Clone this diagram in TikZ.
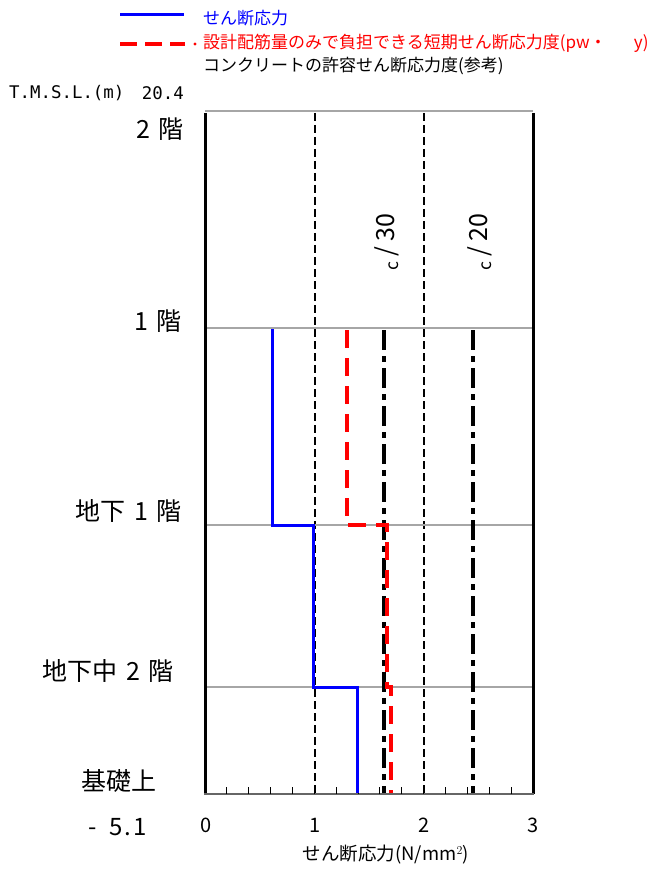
\documentclass[tikz,border=0pt]{standalone}
\usepackage{fontspec}
\setmainfont{Noto Sans CJK JP}
\newfontfamily\monofnt{DejaVu Sans Mono}
\newcommand{\hw}[1]{\makebox[0.5em][c]{#1}}
\begin{document}
\begin{tikzpicture}[x=1pt,y=-1pt,
  floorline/.style={draw=gray!70,line width=2pt},
  frameline/.style={draw=black,line width=3pt},
  guide/.style={draw=black,line width=1.6pt,dash pattern=on 8pt off 4pt},
  shear/.style={draw=blue,line width=3pt},
  rebar/.style={draw=red,line width=3.2pt,dash pattern=on 18pt off 10pt},
  conc/.style={draw=black,line width=3.4pt,dash pattern=on 20pt off 6pt on 6pt off 6pt},
  floorlabel/.style={anchor=east,font=\fontsize{25}{25}\selectfont,inner sep=0pt},
  ticklabel/.style={anchor=center,font=\fontsize{20}{20}\selectfont,inner sep=0pt},
  legtext/.style={anchor=west,font=\fontsize{17}{17}\selectfont,inner sep=0pt}]
\useasboundingbox (0,0) rectangle (658,877);
\fill[white] (0,0) rectangle (658,877);
% legend
\draw[shear] (120,15) -- (184,15);
\node[legtext,text=blue] (leg1) at (203,18) {せん断応力};
\draw[rebar,line width=4pt,dash pattern=on 17pt off 8pt] (120,44) -- (185,44);
\fill[red] (195,44) circle (1.6pt);
\node[legtext,text=red] (leg2) at (203,43) {設計配筋量のみで負担できる短期せん断応力度(pw・\hspace{1.6em}y)};
\node[legtext] (leg3) at (203,66) {コンクリートの許容せん断応力度(参考)};
% elevation header
\node[anchor=west,inner sep=0pt,font=\monofnt\fontsize{17.4}{17.4}\selectfont] (tmsl) at (9,93) {T.M.S.L.(m)};
\node[anchor=east,inner sep=0pt,font=\monofnt\fontsize{17.4}{17.4}\selectfont] (top) at (184,93) {20.4};
% floor labels
\node[floorlabel] (f2) at (184,129) {2\hspace{0.35em}階};
\node[floorlabel] (f1) at (182,321) {1\hspace{0.35em}階};
\node[floorlabel] (fb1) at (182,511) {地下\hspace{0.35em}1\hspace{0.35em}階};
\node[floorlabel] (fbm2) at (174,671) {地下中\hspace{0.35em}2\hspace{0.35em}階};
\node[floorlabel,anchor=center] (fnd) at (119,781) {基礎上};
\node[floorlabel,anchor=west,font=\fontsize{24}{24}\selectfont] (lvl) at (86,827) {\hw{-}\hw{}\hw{5}\hw{.}\hw{1}};
% guide lines at 1 and 2
\draw[guide] (315,113) -- (315,793);
\draw[guide] (424,113) -- (424,793);
% floor lines
\draw[floorline] (205,111) -- (533,111);
\draw[floorline] (205,328) -- (533,328);
\draw[floorline] (205,525) -- (533,525);
\draw[floorline] (205,687) -- (533,687);
% frame
\draw[frameline] (205,113) -- (205,794);
\draw[frameline] (533,113) -- (533,794);
\draw[draw=gray!80!black,line width=2.6pt] (204,794) -- (534,794);
\foreach \i in {1,...,14} {\draw[line width=1pt] ({205+21.867*\i},794) -- ({205+21.867*\i},787);}
% concrete allowable (dash-dot)
\draw[conc] (384,330) -- (384,793);
\draw[conc] (473,330) -- (473,793);
% rebar capacity (red dashed)
\draw[rebar] (347,330) -- (347,525) -- (387,525) -- (387,687) -- (391,687) -- (391,793);
% shear stress (blue)
\draw[shear] (272,329) -- (272,525) -- (313,525) -- (313,687) -- (357,687) -- (357,793);
% rotated labels
\node[rotate=90,inner sep=0pt,font=\fontsize{25}{25}\selectfont] (fc30) at (387,242) {$_{\mathrm{c}}$\hspace{0.2em}/\hspace{0.2em}30};
\node[rotate=90,inner sep=0pt,font=\fontsize{25}{25}\selectfont] (fc20) at (480,242) {$_{\mathrm{c}}$\hspace{0.2em}/\hspace{0.2em}20};
% axis labels
\node[ticklabel] (t0) at (206,825) {0};
\node[ticklabel] (t1) at (315,825) {1};
\node[ticklabel] (t2) at (424,825) {2};
\node[ticklabel] (t3) at (533,825) {3};
\node[anchor=center,inner sep=0pt,font=\fontsize{18.5}{18.5}\selectfont] (xtitle) at (386,855) {せん断応力(N/mm$^{2}$)};
\end{tikzpicture}
\end{document}
